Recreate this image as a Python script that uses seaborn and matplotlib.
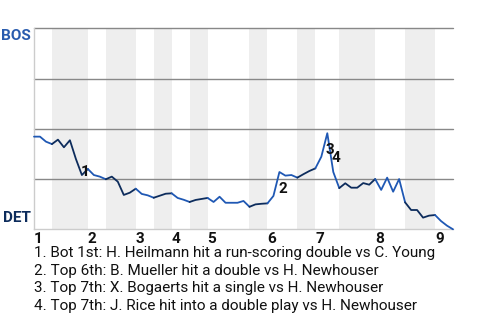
import matplotlib
matplotlib.use("Agg")
import matplotlib.pyplot as plt
import seaborn as sns
import numpy as np
import pandas as pd

# ---- data ----
half_inning_plays = [3, 6, 3, 5, 3, 3, 3, 3, 7, 3, 5, 3, 4, 6, 5, 5, 3]
win_prob = [0.461, 0.461, 0.436, 0.424, 0.446, 0.408, 0.443, 0.350, 0.270, 0.300,
            0.270, 0.262, 0.249, 0.262, 0.237, 0.171, 0.182, 0.202, 0.176, 0.169,
            0.157, 0.167, 0.177, 0.179, 0.156, 0.147, 0.136, 0.146, 0.151, 0.156,
            0.136, 0.162, 0.132, 0.132, 0.132, 0.141, 0.112, 0.124, 0.127, 0.129,
            0.166, 0.285, 0.267, 0.270, 0.257, 0.274, 0.290, 0.303, 0.361, 0.478,
            0.285, 0.205, 0.229, 0.207, 0.207, 0.230, 0.222, 0.250, 0.196, 0.257,
            0.187, 0.250, 0.134, 0.096, 0.096, 0.058, 0.068, 0.071, 0.041, 0.018,
            0.0]
inning_labels = ["1", "2", "3", "4", "5", "6", "7", "8", "9"]
event_plays = [8, 41, 49, 50]
event_marks = ["1", "2", "3", "4"]
event_texts = [
    "1. Bot 1st: H. Heilmann hit a run-scoring double vs C. Young",
    "2. Top 6th: B. Mueller hit a double vs H. Newhouser",
    "3. Top 7th: X. Bogaerts hit a single vs H. Newhouser",
    "4. Top 7th: J. Rice hit into a double play vs H. Newhouser",
]
team_top = "BOS"
team_bottom = "DET"

# ---- styling ----
sns.set_theme(style="white")
plt.rcParams["font.family"] = ["Roboto", "DejaVu Sans"]

BLUE = "#1f58b4"
NAVY = "#0d2c5c"
BAND = "#eeeeee"
FS = 11

W, H = 480, 320
fig = plt.figure(figsize=(W / 100, H / 100), dpi=100)
ax = fig.add_axes([34 / W, 1 - 229.3 / H, (453 - 34) / W, (229.3 - 28.3) / H])

n_plays = sum(half_inning_plays)
bounds = np.concatenate([[0], np.cumsum(half_inning_plays)])
df = pd.DataFrame({"play": np.arange(len(win_prob)), "wp": win_prob})

# bands for bottom half-innings
for k in range(len(half_inning_plays)):
    if k % 2 == 1:
        ax.axvspan(bounds[k], bounds[k + 1], color=BAND, lw=0, zorder=0)

# gridlines
for g in [0.25, 0.5, 0.75, 1.0]:
    ax.axhline(g, color="#888888", lw=1.0, zorder=1, clip_on=False)

# line segments per half inning
for k in range(len(half_inning_plays)):
    seg = df[(df.play >= bounds[k]) & (df.play <= bounds[k + 1])]
    sns.lineplot(data=seg, x="play", y="wp", ax=ax,
                 color=BLUE if k % 2 == 0 else NAVY, lw=1.3,
                 zorder=3, clip_on=False)

ax.set_xlim(0, n_plays)
ax.set_ylim(0, 1)
ax.set_xlabel("")
ax.set_ylabel("")
for s in ["top", "right"]:
    ax.spines[s].set_visible(False)
for s in ["left", "bottom"]:
    ax.spines[s].set_color("#cccccc")
    ax.spines[s].set_linewidth(1.0)

tick_pos = bounds[0::2][:len(inning_labels)]
ax.set_xticks(tick_pos)
ax.set_xticklabels(inning_labels, fontsize=FS, fontweight="bold",
                   color="#111111", ha="left")
ax.tick_params(axis="x", length=0, pad=2)
ax.set_yticks([])

# team labels
ax.annotate(team_top, xy=(0, 1), xycoords="axes fraction",
            xytext=(-3, -1), textcoords="offset pixels",
            ha="right", va="top", fontsize=FS, fontweight="bold", color="#2a5cae")
ax.annotate(team_bottom, xy=(0, 0), xycoords="axes fraction",
            xytext=(-3, 4), textcoords="offset pixels",
            ha="right", va="bottom", fontsize=FS, fontweight="bold", color=NAVY)

# event markers at segment midpoints
for p, m in zip(event_plays, event_marks):
    xm = p - 0.5
    ym = (win_prob[p - 1] + win_prob[p]) / 2
    ax.annotate(m, xy=(xm, ym), xytext=(6, -5), textcoords="offset pixels",
                ha="center", va="center", fontsize=FS, fontweight="bold",
                color="#111111", zorder=4)

# event descriptions
for i, t in enumerate(event_texts):
    yc = [253.3, 270.7, 288.3, 306.0][i]
    fig.text(34 / W, 1 - yc / H, t, ha="left", va="center",
             fontsize=FS, color="#111111")

fig.savefig("out.png", dpi=100)
